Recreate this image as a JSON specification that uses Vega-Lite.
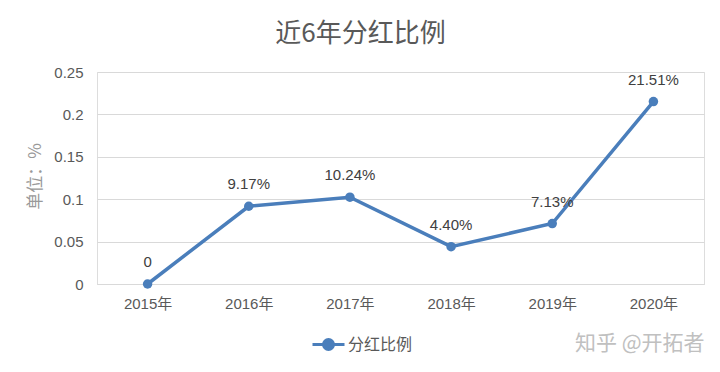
{
  "$schema": "https://vega.github.io/schema/vega-lite/v6.json",
  "autosize": "none",
  "width": 607,
  "height": 212,
  "padding": {"left": 97, "top": 72, "right": 16, "bottom": 88},
  "background": "white",
  "title": {
    "text": "近6年分红比例",
    "font": "Noto Sans CJK SC",
    "fontSize": 26,
    "fontWeight": "normal",
    "color": "#595959",
    "anchor": "middle",
    "dx": -40,
    "offset": 18
  },
  "data": {
    "values": [
      {"year": "2015年", "value": 0, "label": "0", "series": "分红比例"},
      {"year": "2016年", "value": 0.0917, "label": "9.17%", "series": "分红比例"},
      {"year": "2017年", "value": 0.1024, "label": "10.24%", "series": "分红比例"},
      {"year": "2018年", "value": 0.044, "label": "4.40%", "series": "分红比例"},
      {"year": "2019年", "value": 0.0713, "label": "7.13%", "series": "分红比例"},
      {"year": "2020年", "value": 0.2151, "label": "21.51%", "series": "分红比例"}
    ]
  },
  "encoding": {
    "x": {
      "field": "year",
      "type": "ordinal",
      "sort": null,
      "scale": {"type": "point", "padding": 0.5},
      "axis": {
        "labelAngle": 0,
        "labelFont": "Liberation Sans, Noto Sans CJK SC",
        "labelFontSize": 15,
        "labelColor": "#595959",
        "labelPadding": 12,
        "ticks": false,
        "domainColor": "#d9d9d9",
        "grid": false,
        "title": "知乎 @开拓者",
        "titleFont": "Noto Sans CJK SC",
        "titleFontSize": 21,
        "titleFontWeight": "normal",
        "titleColor": "#c0c0c0",
        "titleAnchor": "end",
        "titleAlign": "right",
        "titleX": 607,
        "titleY": 59,
        "titleBaseline": "middle"
      }
    },
    "y": {
      "field": "value",
      "type": "quantitative",
      "scale": {"domain": [0, 0.25], "nice": false},
      "axis": {
        "values": [0, 0.05, 0.1, 0.15, 0.2, 0.25],
        "format": "~g",
        "labelFont": "Liberation Sans",
        "labelFontSize": 15,
        "labelColor": "#595959",
        "labelPadding": 14,
        "ticks": false,
        "domain": false,
        "gridColor": "#d9d9d9",
        "title": "单位：%",
        "titleFont": "Noto Sans CJK SC",
        "titleFontSize": 17,
        "titleFontWeight": "normal",
        "titleColor": "#999999",
        "titleAngle": -90,
        "titleX": -62,
        "titleY": 104,
        "titleAlign": "center",
        "titleBaseline": "middle"
      }
    }
  },
  "layer": [
    {
      "mark": {"type": "line", "strokeWidth": 3.5, "color": "#4a7ebb"},
      "encoding": {
        "color": {
          "field": "series",
          "type": "nominal",
          "scale": {"range": ["#4a7ebb"]},
          "legend": {
            "title": null,
            "orient": "none",
            "legendX": 220,
            "legendY": 261,
            "symbolType": "M-1.6,0H1.6M-0.5,0A0.5,0.5 0 1 1 0.5,0A0.5,0.5 0 1 1 -0.5,0Z",
            "symbolSize": 400,
            "symbolStrokeWidth": 3,
            "labelFont": "Noto Sans CJK SC",
            "labelFontSize": 16,
            "labelColor": "#595959",
            "labelOffset": 8,
            "encode": {
              "symbols": {
                "update": {
                  "fill": {"value": "#4a7ebb"},
                  "stroke": {"value": "#4a7ebb"},
                  "strokeWidth": {"value": 3},
                  "opacity": {"value": 1}
                }
              }
            }
          }
        }
      }
    },
    {
      "mark": {"type": "point", "filled": true, "size": 90, "opacity": 1, "color": "#4a7ebb"}
    },
    {
      "mark": {
        "type": "text",
        "dy": -22,
        "font": "Liberation Sans",
        "fontSize": 15,
        "color": "#404040"
      },
      "encoding": {"text": {"field": "label"}}
    }
  ]
}
